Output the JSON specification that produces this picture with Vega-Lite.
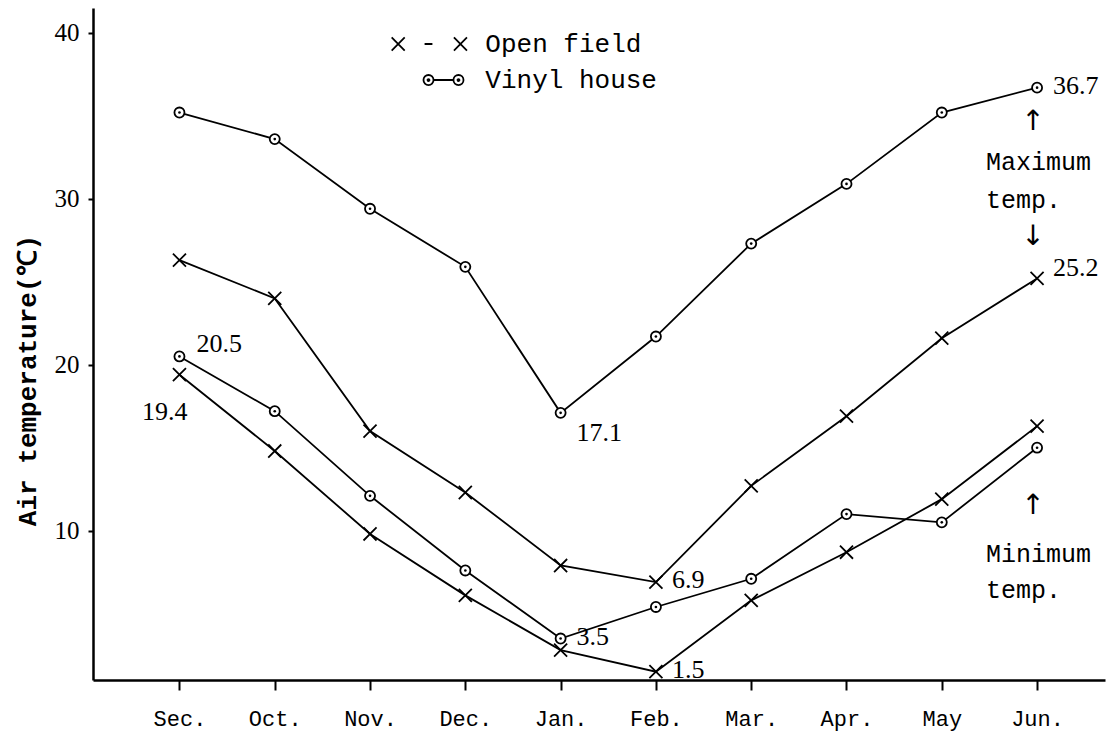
{
  "$schema": "https://vega.github.io/schema/vega-lite/v6.json",
  "width": 1012,
  "height": 672,
  "autosize": {"type": "none"},
  "padding": {"left": 93, "top": 8, "right": 5, "bottom": 58},
  "background": "white",
  "config": {"view": {"stroke": null}, "axis": {"grid": false}},
  "datasets": {
    "temps": [
      {"month": "Sec.", "site": "Open field", "kind": "Maximum", "temp": 26.3},
      {"month": "Oct.", "site": "Open field", "kind": "Maximum", "temp": 24.0},
      {"month": "Nov.", "site": "Open field", "kind": "Maximum", "temp": 16.0},
      {"month": "Dec.", "site": "Open field", "kind": "Maximum", "temp": 12.3},
      {"month": "Jan.", "site": "Open field", "kind": "Maximum", "temp": 7.9},
      {"month": "Feb.", "site": "Open field", "kind": "Maximum", "temp": 6.9},
      {"month": "Mar.", "site": "Open field", "kind": "Maximum", "temp": 12.7},
      {"month": "Apr.", "site": "Open field", "kind": "Maximum", "temp": 16.9},
      {"month": "May", "site": "Open field", "kind": "Maximum", "temp": 21.6},
      {"month": "Jun.", "site": "Open field", "kind": "Maximum", "temp": 25.2},
      {"month": "Sec.", "site": "Open field", "kind": "Minimum", "temp": 19.4},
      {"month": "Oct.", "site": "Open field", "kind": "Minimum", "temp": 14.8},
      {"month": "Nov.", "site": "Open field", "kind": "Minimum", "temp": 9.8},
      {"month": "Dec.", "site": "Open field", "kind": "Minimum", "temp": 6.1},
      {"month": "Jan.", "site": "Open field", "kind": "Minimum", "temp": 2.8},
      {"month": "Feb.", "site": "Open field", "kind": "Minimum", "temp": 1.5},
      {"month": "Mar.", "site": "Open field", "kind": "Minimum", "temp": 5.8},
      {"month": "Apr.", "site": "Open field", "kind": "Minimum", "temp": 8.7},
      {"month": "May", "site": "Open field", "kind": "Minimum", "temp": 11.9},
      {"month": "Jun.", "site": "Open field", "kind": "Minimum", "temp": 16.3},
      {"month": "Sec.", "site": "Vinyl house", "kind": "Maximum", "temp": 35.2},
      {"month": "Oct.", "site": "Vinyl house", "kind": "Maximum", "temp": 33.6},
      {"month": "Nov.", "site": "Vinyl house", "kind": "Maximum", "temp": 29.4},
      {"month": "Dec.", "site": "Vinyl house", "kind": "Maximum", "temp": 25.9},
      {"month": "Jan.", "site": "Vinyl house", "kind": "Maximum", "temp": 17.1},
      {"month": "Feb.", "site": "Vinyl house", "kind": "Maximum", "temp": 21.7},
      {"month": "Mar.", "site": "Vinyl house", "kind": "Maximum", "temp": 27.3},
      {"month": "Apr.", "site": "Vinyl house", "kind": "Maximum", "temp": 30.9},
      {"month": "May", "site": "Vinyl house", "kind": "Maximum", "temp": 35.2},
      {"month": "Jun.", "site": "Vinyl house", "kind": "Maximum", "temp": 36.7},
      {"month": "Sec.", "site": "Vinyl house", "kind": "Minimum", "temp": 20.5},
      {"month": "Oct.", "site": "Vinyl house", "kind": "Minimum", "temp": 17.2},
      {"month": "Nov.", "site": "Vinyl house", "kind": "Minimum", "temp": 12.1},
      {"month": "Dec.", "site": "Vinyl house", "kind": "Minimum", "temp": 7.6},
      {"month": "Jan.", "site": "Vinyl house", "kind": "Minimum", "temp": 3.5},
      {"month": "Feb.", "site": "Vinyl house", "kind": "Minimum", "temp": 5.4},
      {"month": "Mar.", "site": "Vinyl house", "kind": "Minimum", "temp": 7.1},
      {"month": "Apr.", "site": "Vinyl house", "kind": "Minimum", "temp": 11.0},
      {"month": "May", "site": "Vinyl house", "kind": "Minimum", "temp": 10.5},
      {"month": "Jun.", "site": "Vinyl house", "kind": "Minimum", "temp": 15.0}
    ],
    "key": [
      {"month": "Dec.", "temp": 39.33, "site": "Open field"},
      {"month": "Dec.", "temp": 37.16, "site": "Vinyl house"}
    ],
    "words": [
      {"month": "Jun.", "temp": 32.2, "text": "Maximum"},
      {"month": "Jun.", "temp": 29.9, "text": "temp."},
      {"month": "Jun.", "temp": 8.6, "text": "Minimum"},
      {"month": "Jun.", "temp": 6.4, "text": "temp."}
    ],
    "arrows": [
      {"month": "Jun.", "temp": 34.6, "text": "↑"},
      {"month": "Jun.", "temp": 27.7, "text": "↓"},
      {"month": "Jun.", "temp": 11.5, "text": "↑"}
    ]
  },
  "encoding": {
    "x": {
      "field": "month",
      "type": "ordinal",
      "sort": ["Sec.", "Oct.", "Nov.", "Dec.", "Jan.", "Feb.", "Mar.", "Apr.", "May", "Jun."],
      "scale": {"type": "point", "padding": 0.81, "align": 0.56},
      "axis": {
        "title": null,
        "labelAngle": 0,
        "labelFont": "Liberation Mono",
        "labelFontSize": 22,
        "labelColor": "black",
        "labelPadding": 18,
        "tickSize": 10,
        "tickWidth": 2,
        "tickColor": "black",
        "domainColor": "black",
        "domainWidth": 2.5
      }
    },
    "y": {
      "field": "temp",
      "type": "quantitative",
      "scale": {"domain": [1, 41.5], "nice": false, "zero": false},
      "axis": {
        "values": [10, 20, 30, 40],
        "title": "Air temperature(℃)",
        "titleFont": "Liberation Mono",
        "titleFontWeight": "bold",
        "titleFontSize": 26,
        "titleColor": "black",
        "titleX": -66,
        "titleY": 372,
        "titleAngle": -90,
        "titleAlign": "center",
        "titleBaseline": "middle",
        "labelFont": "Liberation Serif",
        "labelFontSize": 25,
        "labelColor": "black",
        "labelPadding": 9,
        "tickSize": 5,
        "tickWidth": 2,
        "tickColor": "black",
        "domainColor": "black",
        "domainWidth": 2.5
      }
    }
  },
  "layer": [
    {
      "data": {"name": "temps"},
      "mark": {"type": "line", "color": "black", "strokeWidth": 1.8},
      "encoding": {"detail": [{"field": "site"}, {"field": "kind"}]}
    },
    {
      "data": {"name": "temps"},
      "mark": {"type": "point", "filled": false, "fill": "white", "fillOpacity": 1, "stroke": "black", "strokeWidth": 1.8, "opacity": 1, "size": 170},
      "encoding": {
        "shape": {
          "field": "site",
          "type": "nominal",
          "scale": {
            "domain": ["Open field", "Vinyl house"],
            "range": ["M-1,-1L1,1M-1,1L1,-1", "M-0.77,0A0.77,0.77 0 1,1 0.77,0A0.77,0.77 0 1,1 -0.77,0Z"]
          },
          "legend": null
        }
      }
    },
    {
      "data": {"name": "temps"},
      "transform": [{"filter": "datum.site === 'Vinyl house'"}],
      "mark": {"type": "circle", "color": "black", "size": 7, "opacity": 1}
    },
    {
      "data": {"name": "key"},
      "transform": [{"filter": "datum.site === 'Open field'"}],
      "mark": {"type": "point", "xOffset": -29, "size": 170, "filled": false, "stroke": "black", "strokeWidth": 1.8, "opacity": 1, "shape": "M-6.85,-1L-4.85,1M-6.85,1L-4.85,-1M-1.8,0L-0.6,0M2.7,-1L4.7,1M2.7,1L4.7,-1"}
    },
    {
      "data": {"name": "key"},
      "transform": [{"filter": "datum.site === 'Vinyl house'"}],
      "mark": {"type": "point", "xOffset": -29, "size": 170, "filled": false, "fill": "white", "fillOpacity": 1, "stroke": "black", "strokeWidth": 1.8, "opacity": 1, "shape": "M-1.97,0A0.77,0.77 0 1,1 -0.43,0A0.77,0.77 0 1,1 -1.97,0ZM-0.43,0L2.63,0M2.63,0A0.77,0.77 0 1,1 4.17,0A0.77,0.77 0 1,1 2.63,0ZM-1.35,0A0.15,0.15 0 1,1 -1.05,0A0.15,0.15 0 1,1 -1.35,0ZM3.25,0A0.15,0.15 0 1,1 3.55,0A0.15,0.15 0 1,1 3.25,0Z"}
    },
    {
      "data": {"name": "key"},
      "mark": {"type": "text", "align": "left", "baseline": "middle", "dx": 20, "font": "Liberation Mono", "fontSize": 26, "color": "black"},
      "encoding": {"text": {"field": "site", "type": "nominal"}}
    },
    {
      "data": {"name": "temps"},
      "transform": [{"filter": "(datum.month === 'Jun.' && datum.site === 'Vinyl house' && datum.kind === 'Maximum') || (datum.month === 'Feb.' && datum.site === 'Open field') || (datum.month === 'Jan.' && datum.site === 'Vinyl house' && datum.kind === 'Minimum')"}],
      "mark": {"type": "text", "align": "left", "baseline": "middle", "dx": 16, "dy": -2, "font": "Liberation Serif", "fontSize": 26, "color": "black"},
      "encoding": {"text": {"field": "temp", "type": "quantitative", "format": ".1f"}}
    },
    {
      "data": {"name": "temps"},
      "transform": [{"filter": "datum.month === 'Jun.' && datum.site === 'Open field' && datum.kind === 'Maximum'"}],
      "mark": {"type": "text", "align": "left", "baseline": "middle", "dx": 16, "dy": -10, "font": "Liberation Serif", "fontSize": 26, "color": "black"},
      "encoding": {"text": {"field": "temp", "type": "quantitative", "format": ".1f"}}
    },
    {
      "data": {"name": "temps"},
      "transform": [{"filter": "datum.month === 'Jan.' && datum.site === 'Vinyl house' && datum.kind === 'Maximum'"}],
      "mark": {"type": "text", "align": "left", "baseline": "middle", "dx": 16, "dy": 20, "font": "Liberation Serif", "fontSize": 26, "color": "black"},
      "encoding": {"text": {"field": "temp", "type": "quantitative", "format": ".1f"}}
    },
    {
      "data": {"name": "temps"},
      "transform": [{"filter": "datum.month === 'Sec.' && datum.site === 'Vinyl house' && datum.kind === 'Minimum'"}],
      "mark": {"type": "text", "align": "left", "baseline": "middle", "dx": 17, "dy": -12, "font": "Liberation Serif", "fontSize": 26, "color": "black"},
      "encoding": {"text": {"field": "temp", "type": "quantitative", "format": ".1f"}}
    },
    {
      "data": {"name": "temps"},
      "transform": [{"filter": "datum.month === 'Sec.' && datum.site === 'Open field' && datum.kind === 'Minimum'"}],
      "mark": {"type": "text", "align": "right", "baseline": "middle", "dx": 8, "dy": 37, "font": "Liberation Serif", "fontSize": 26, "color": "black"},
      "encoding": {"text": {"field": "temp", "type": "quantitative", "format": ".1f"}}
    },
    {
      "data": {"name": "words"},
      "mark": {"type": "text", "align": "left", "baseline": "middle", "dx": -51, "font": "Liberation Mono", "fontSize": 25, "color": "black"},
      "encoding": {"text": {"field": "text", "type": "nominal"}}
    },
    {
      "data": {"name": "arrows"},
      "mark": {"type": "text", "align": "center", "baseline": "middle", "dx": -4, "font": "DejaVu Sans", "fontSize": 28, "color": "black"},
      "encoding": {"text": {"field": "text", "type": "nominal"}}
    }
  ]
}
